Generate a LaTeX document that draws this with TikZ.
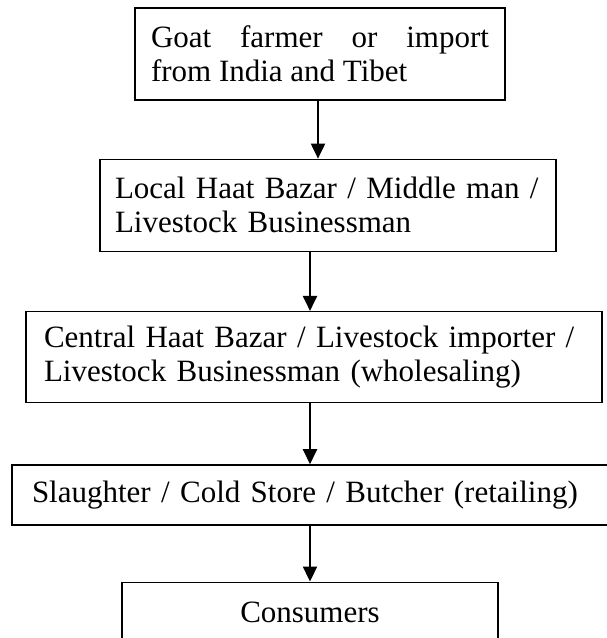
\documentclass[tikz,border=0pt]{standalone}
\usepackage{fontspec}
\setmainfont{Liberation Serif}
\usetikzlibrary{
  arrows.meta,
  positioning
}

\begin{document}
\begin{tikzpicture}[
  node distance=58pt,
  box/.style={
    draw=black,
    line width=1.3pt,
    font=\fontsize{31}{34}\selectfont,
    inner sep=0pt
  },
  flow/.style={
    -{Triangle[length=15pt,width=14pt]},
    line width=2pt
  }
]

\clip (0,0) rectangle (607pt,638pt);

\node[box, minimum width=370pt, minimum height=92pt, text width=338pt, align=justify] (farmer) at (320pt,584pt) {Goat farmer or import\linebreak from India and Tibet};
\node[box, below=of farmer, xshift=8pt, minimum width=456pt, minimum height=92pt, text width=426pt, align=left] (local) {Local Haat Bazar / Middle man /\\ Livestock Businessman};
\node[box, below=59pt of local, xshift=-14pt, minimum width=576pt, minimum height=91pt, text width=540pt, align=left] (central) {Central Haat Bazar / Livestock importer /\\ Livestock Businessman (wholesaling)};
\node[box, below=61pt of central, xshift=3pt, minimum width=610pt, minimum height=60pt, text width=570pt, align=left] (retail) {Slaughter / Cold Store / Butcher (retailing)};
\node[box, below=56pt of retail, xshift=-7pt, minimum width=376pt, inner ysep=12pt, text height=28pt, text depth=40pt] (consumer) {Consumers};

\draw[flow] ([xshift=-2pt]farmer.south) -- ([xshift=-2pt]farmer.south |- local.north);
\draw[flow] ([xshift=-18pt]local.south) -- ([xshift=-18pt]local.south |- central.north);
\draw[flow] ([xshift=-4pt]central.south) -- ([xshift=-4pt]central.south |- retail.north);
\draw[flow] (retail.south -| consumer.north) -- (consumer.north);

\end{tikzpicture}
\end{document}
